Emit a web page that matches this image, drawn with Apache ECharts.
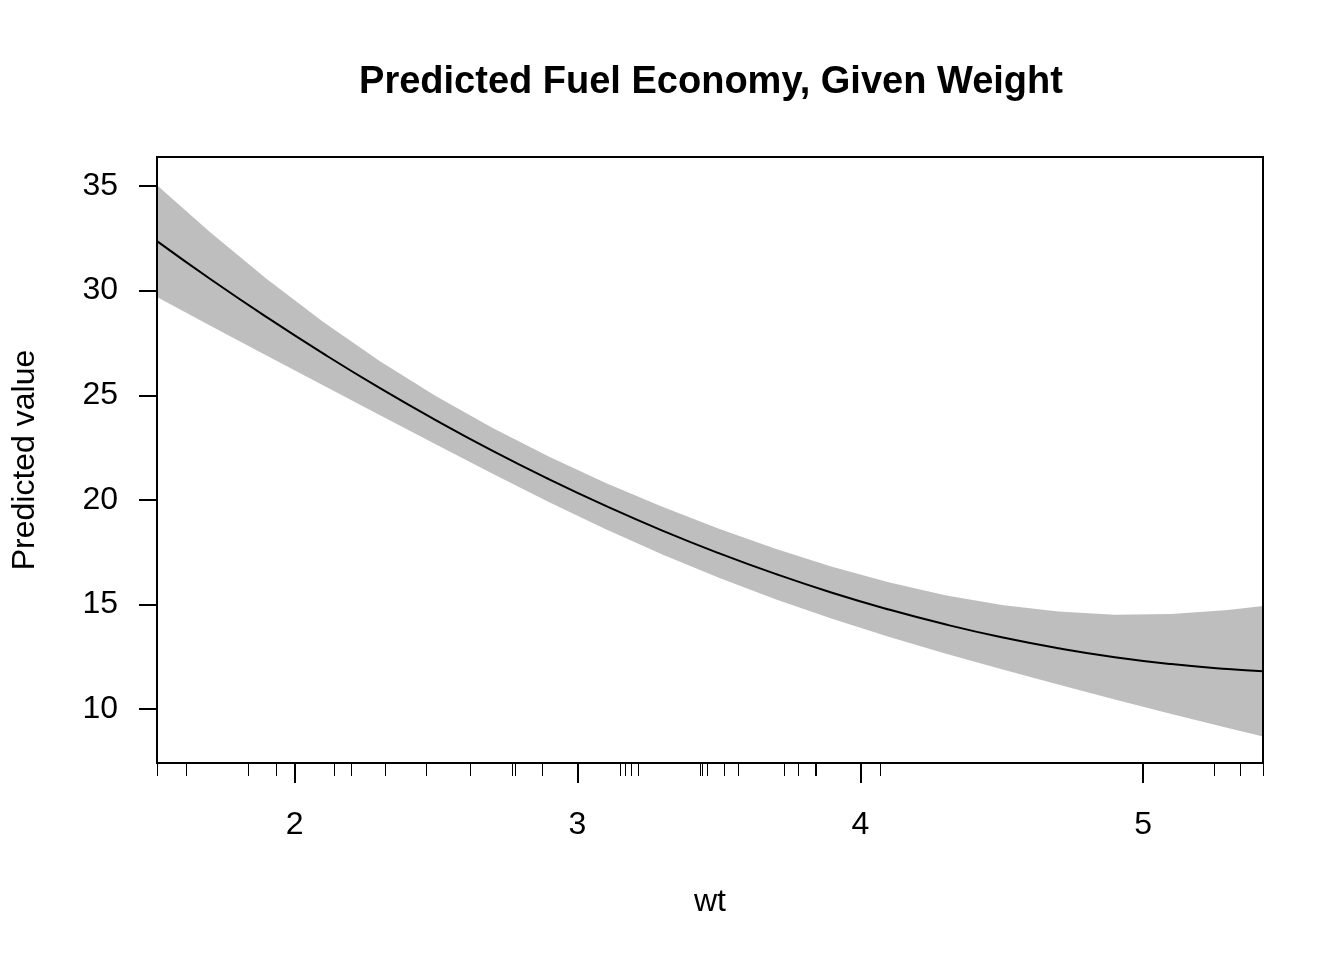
<!DOCTYPE html>
<html>
<head>
<meta charset="utf-8">
<script src="https://cdn.jsdelivr.net/npm/echarts@6/dist/echarts.min.js"></script>
<style>
html,body{margin:0;padding:0;background:#fff;}
#chart{width:1344px;height:960px;}
</style>
</head>
<body>
<div id="chart"></div>
<script>
// ---- data ----
const wtGrid    = [1.513, 1.7, 1.9, 2.1, 2.3, 2.5, 2.7, 2.9, 3.1, 3.3, 3.5, 3.7, 3.9, 4.1, 4.3, 4.5, 4.7, 4.9, 5.1, 5.3, 5.424];
const predicted = [32.37, 30.57, 28.74, 27.00, 25.35, 23.80, 22.34, 20.98, 19.71, 18.53, 17.45, 16.46, 15.56, 14.76, 14.05, 13.43, 12.91, 12.48, 12.15, 11.91, 11.81];
const upperCI   = [35.04, 32.80, 30.57, 28.51, 26.64, 24.95, 23.43, 22.06, 20.81, 19.67, 18.62, 17.66, 16.80, 16.06, 15.44, 14.97, 14.66, 14.51, 14.54, 14.73, 14.93];
const lowerCI   = [29.70, 28.34, 26.90, 25.48, 24.06, 22.65, 21.25, 19.89, 18.60, 17.39, 16.27, 15.25, 14.32, 13.46, 12.66, 11.90, 11.17, 10.46, 9.76, 9.09, 8.69];
const rugWeights = [2.620, 2.875, 2.320, 3.215, 3.440, 3.460, 3.570, 3.190, 3.150, 3.440, 3.440, 4.070, 3.730, 3.780, 5.250, 5.424, 5.345, 2.200, 1.615, 1.835, 2.465, 3.520, 3.435, 3.840, 3.845, 1.935, 2.140, 1.513, 3.170, 2.770, 3.570, 2.780];
const xTickValues = [2, 3, 4, 5];
const yTickValues = [10, 15, 20, 25, 30, 35];
const xRange = [1.513, 5.424];
const yRange = [7.42, 36.39];
const titleText = 'Predicted Fuel Economy, Given Weight';
const xName = 'wt';
const yName = 'Predicted value';

// ---- chart ----
const FONT = '"Liberation Sans", Arial, sans-serif';
const chart = echarts.init(document.getElementById('chart'), null, {renderer: 'canvas'});

const fitData = wtGrid.map((x, i) => [x, predicted[i]]);

function renderBand(params, api) {
  const pts = [];
  for (let i = 0; i < wtGrid.length; i++) pts.push(api.coord([wtGrid[i], upperCI[i]]));
  for (let i = wtGrid.length - 1; i >= 0; i--) pts.push(api.coord([wtGrid[i], lowerCI[i]]));
  return {
    type: 'polygon',
    shape: {points: pts},
    style: {fill: '#BEBEBE', stroke: null}
  };
}

const option = {
  animation: false,
  backgroundColor: '#ffffff',
  title: {
    text: titleText,
    left: 706,
    top: 59,
    textAlign: 'center',
    textStyle: {fontFamily: FONT, fontSize: 38, fontWeight: 'bold', color: '#000'}
  },
  grid: {
    left: 157, top: 157, width: 1106, height: 606,
    show: true, z: 5,
    borderColor: '#000', borderWidth: 2,
    backgroundColor: 'transparent',
    containLabel: false,
    outerBoundsMode: 'none'
  },
  xAxis: [
    {
      type: 'value', min: xRange[0], max: xRange[1], position: 'bottom',
      name: xName, nameLocation: 'middle', nameGap: 123,
      nameTextStyle: {fontFamily: FONT, fontSize: 32, color: '#000'},
      axisLine: {show: false},
      axisTick: {show: true, customValues: xTickValues, length: 20, lineStyle: {color: '#000', width: 2}},
      axisLabel: {customValues: xTickValues, margin: 46, fontFamily: FONT, fontSize: 32, color: '#000'},
      splitLine: {show: false}
    },
    {
      type: 'value', min: xRange[0], max: xRange[1], position: 'bottom',
      axisLine: {show: false},
      axisTick: {show: true, customValues: rugWeights, length: 13, lineStyle: {color: '#000', width: 1}},
      axisLabel: {show: false},
      splitLine: {show: false}
    }
  ],
  yAxis: {
    type: 'value', min: yRange[0], max: yRange[1], position: 'left',
    name: yName, nameLocation: 'middle', nameGap: 116,
    nameTextStyle: {fontFamily: FONT, fontSize: 32, color: '#000'},
    axisLine: {show: false},
    axisTick: {show: true, customValues: yTickValues, length: 18, lineStyle: {color: '#000', width: 2}},
    axisLabel: {customValues: yTickValues, margin: 39, fontFamily: FONT, fontSize: 32, color: '#000'},
    splitLine: {show: false}
  },
  series: [
    {
      type: 'custom', name: 'band',
      coordinateSystem: 'cartesian2d', xAxisIndex: 0, yAxisIndex: 0,
      data: [[xRange[0], yRange[0]]],
      encode: {x: 0, y: 1},
      renderItem: renderBand,
      silent: true, z: 2, clip: true
    },
    {
      type: 'line', name: 'fit', data: fitData,
      smooth: true, symbol: 'none', silent: true, z: 4,
      lineStyle: {color: '#000', width: 2}
    }
  ]
};
chart.setOption(option);
</script>
</body>
</html>
